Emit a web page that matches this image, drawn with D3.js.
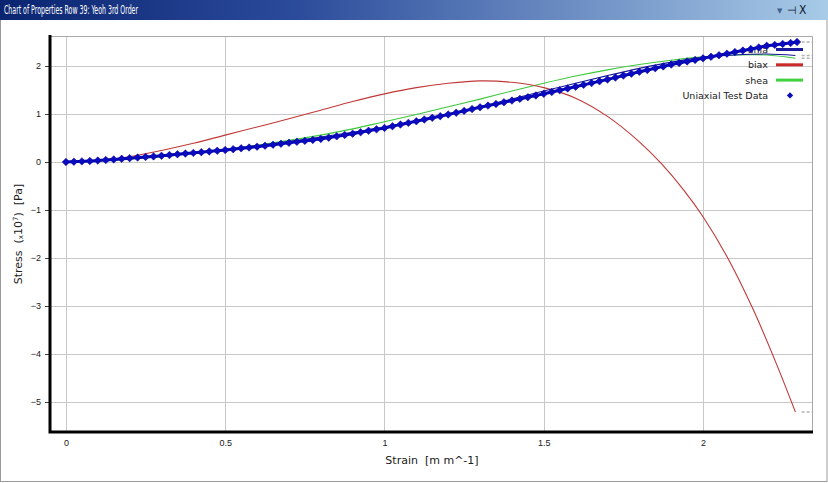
<!DOCTYPE html>
<html lang="en">
<head>
  <meta charset="UTF-8">
  <title>Chart of Properties Row 39: Yeoh 3rd Order</title>
  <style>
    body {
      margin: 0;
      padding: 0;
      background-color: white;
    }
    svg {
      display: block;
      font-family: "DejaVu Sans", Verdana, sans-serif;
    }
    .grid line {
      stroke: #c8c8c8;
      stroke-width: 1;
    }
    .tick text {
      fill: #202020;
      font-size: 9px;
    }
  </style>
  <script src="https://d3js.org/d3.v7.min.js"></script>
</head>
<body>
  <div id="chart"></div>
  <script>
    // fitted curves (Yeoh 3rd order), stress in 1e7 Pa
    const fitStrain = [0, 0.1, 0.2, 0.3, 0.4, 0.5, 0.6, 0.7, 0.8, 0.9, 1.0, 1.1, 1.2,
      1.3, 1.4, 1.5, 1.6, 1.7, 1.8, 1.9, 2.0, 2.1, 2.2, 2.29];
    const uniaFit = [0, 0.025, 0.07, 0.125, 0.19, 0.26, 0.34, 0.43, 0.52, 0.62, 0.73, 0.86, 1.0,
      1.15, 1.31, 1.48, 1.64, 1.8, 1.95, 2.08, 2.18, 2.23, 2.25, 2.22];
    const sheaFit = [0, 0.02, 0.06, 0.11, 0.18, 0.26, 0.35, 0.45, 0.56, 0.69, 0.84, 0.99, 1.15,
      1.31, 1.48, 1.64, 1.79, 1.92, 2.03, 2.12, 2.19, 2.23, 2.23, 2.16];
    const biaxStrain = [0, 0.1, 0.2, 0.3, 0.4, 0.5, 0.6, 0.7, 0.8, 0.9, 1.0, 1.1, 1.2,
      1.3, 1.4, 1.5, 1.6, 1.7, 1.8, 1.87, 1.94, 2.0, 2.08, 2.16, 2.23, 2.29];
    const biaxFit = [0, 0.03, 0.11, 0.24, 0.39, 0.56, 0.73, 0.9, 1.08, 1.26, 1.42, 1.55, 1.64,
      1.69, 1.66, 1.55, 1.33, 0.95, 0.42, -0.04, -0.59, -1.14, -2.03, -3.11, -4.2, -5.21];

    // uniaxial test data
    const testStrain = [0, 0.025, 0.05, 0.075, 0.1, 0.125, 0.15, 0.175, 0.2, 0.225, 0.25, 0.275,
      0.3, 0.325, 0.35, 0.375, 0.4, 0.425, 0.45, 0.475, 0.5, 0.525, 0.55, 0.575,
      0.6, 0.625, 0.65, 0.675, 0.7, 0.725, 0.75, 0.775, 0.8, 0.825, 0.85, 0.875,
      0.9, 0.925, 0.95, 0.975, 1.0, 1.025, 1.05, 1.075, 1.1, 1.125, 1.15, 1.175,
      1.2, 1.225, 1.25, 1.275, 1.3, 1.325, 1.35, 1.375, 1.4, 1.425, 1.45, 1.475,
      1.5, 1.525, 1.55, 1.575, 1.6, 1.625, 1.65, 1.675, 1.7, 1.725, 1.75, 1.775,
      1.8, 1.825, 1.85, 1.875, 1.9, 1.925, 1.95, 1.975, 2.0, 2.025, 2.05, 2.075,
      2.1, 2.125, 2.15, 2.175, 2.2, 2.225, 2.25, 2.275, 2.295];
    const testStress = [0, 0.006, 0.013, 0.021, 0.03, 0.042, 0.054, 0.067, 0.08, 0.092, 0.105, 0.117,
      0.13, 0.145, 0.16, 0.175, 0.19, 0.205, 0.22, 0.235, 0.25, 0.267, 0.285, 0.302,
      0.32, 0.34, 0.36, 0.38, 0.4, 0.42, 0.44, 0.46, 0.48, 0.507, 0.535, 0.562,
      0.59, 0.62, 0.65, 0.68, 0.71, 0.745, 0.78, 0.815, 0.85, 0.885, 0.92, 0.955,
      0.99, 1.027, 1.065, 1.102, 1.14, 1.175, 1.21, 1.245, 1.28, 1.315, 1.35, 1.385,
      1.42, 1.457, 1.495, 1.532, 1.57, 1.607, 1.645, 1.682, 1.72, 1.76, 1.8, 1.84,
      1.88, 1.917, 1.955, 1.992, 2.03, 2.062, 2.095, 2.127, 2.16, 2.192, 2.225, 2.257,
      2.29, 2.322, 2.355, 2.387, 2.42, 2.44, 2.46, 2.48, 2.5];

    const xTicks = [0, 0.5, 1, 1.5, 2];
    const yTicks = [-5, -4, -3, -2, -1, 0, 1, 2];
    const legendNames = ["unia", "biax", "shea", "Uniaxial Test Data"];

    const width = 828, height = 483;
    const plotLeft = 50, plotRight = 812, plotTop = 36, plotBottom = 431;

    const svg = d3.select("#chart")
      .append("svg")
      .attr("width", width)
      .attr("height", height);

    // window frame + title bar
    const grad = svg.append("defs").append("linearGradient")
      .attr("id", "titleGrad")
      .attr("x1", "0%").attr("x2", "100%");
    grad.append("stop").attr("offset", "0%").attr("stop-color", "#0a2470");
    grad.append("stop").attr("offset", "35%").attr("stop-color", "#2a4a9a");
    grad.append("stop").attr("offset", "100%").attr("stop-color", "#a8cbe8");

    svg.append("rect")
      .attr("x", 0.5).attr("y", 19.5)
      .attr("width", width - 1.5).attr("height", 462)
      .attr("fill", "white")
      .attr("stroke", "#9a9a9a");

    svg.append("rect")
      .attr("x", 0).attr("y", 0)
      .attr("width", width).attr("height", 20)
      .attr("fill", "url(#titleGrad)");

    svg.append("text")
      .attr("x", 4).attr("y", 14)
      .attr("fill", "white")
      .style("font-family", "'Liberation Sans Narrow', 'DejaVu Sans Condensed', sans-serif")
      .style("font-size", "12.5px")
      .attr("textLength", 134)
      .attr("lengthAdjust", "spacingAndGlyphs")
      .text("Chart of Properties Row 39: Yeoh 3rd Order");

    svg.append("text")
      .attr("x", 777).attr("y", 13)
      .attr("fill", "#40608a")
      .style("font-size", "7px")
      .text("▼");
    svg.append("text")
      .attr("x", 787).attr("y", 14)
      .attr("fill", "#101830")
      .style("font-size", "11px")
      .text("⊣");
    svg.append("text")
      .attr("x", 799).attr("y", 14)
      .attr("fill", "#101830")
      .style("font-family", "'Liberation Sans Narrow', 'DejaVu Sans Condensed', sans-serif")
      .style("font-size", "12px")
      .text("X");

    const xScale = d3.scaleLinear()
      .domain([-0.05, 2.342])
      .range([plotLeft, plotRight]);

    const yScale = d3.scaleLinear()
      .domain([2.625, -5.604])
      .range([plotTop, plotBottom]);

    // grid
    const grid = svg.append("g").attr("class", "grid");
    grid.selectAll("line.v")
      .data(xTicks)
      .enter()
      .append("line")
      .attr("class", "v")
      .attr("x1", d => Math.round(xScale(d)) + 0.5)
      .attr("x2", d => Math.round(xScale(d)) + 0.5)
      .attr("y1", plotTop)
      .attr("y2", plotBottom);

    grid.selectAll("line.h")
      .data(yTicks)
      .enter()
      .append("line")
      .attr("class", "h")
      .attr("x1", plotLeft)
      .attr("x2", plotRight)
      .attr("y1", d => Math.round(yScale(d)) + 0.5)
      .attr("y2", d => Math.round(yScale(d)) + 0.5);

    // plot frame top/right
    svg.append("path")
      .attr("d", `M${plotLeft},${plotTop + 0.5}H${plotRight + 0.5}V${plotBottom}`)
      .attr("fill", "none")
      .attr("stroke", "#a8a8a8");

    // axes
    const xAxis = svg.append("g")
      .attr("transform", `translate(0, ${plotBottom})`)
      .call(d3.axisBottom(xScale).tickValues(xTicks).tickSize(0).tickPadding(9)
        .tickFormat(d3.format("")));
    xAxis.select(".domain").remove();

    const yAxis = svg.append("g")
      .attr("transform", `translate(${plotLeft}, 0)`)
      .call(d3.axisLeft(yScale).tickValues(yTicks).tickSize(5).tickPadding(4));
    yAxis.select(".domain").remove();
    yAxis.selectAll(".tick line").attr("stroke", "#404040");

    svg.append("path")
      .attr("d", `M${plotLeft},${plotTop - 1}V${plotBottom + 1}H${plotRight + 1}`)
      .attr("fill", "none")
      .attr("stroke", "black")
      .attr("stroke-width", 3);

    // axis titles
    svg.append("text")
      .attr("x", 432).attr("y", 464)
      .attr("text-anchor", "middle")
      .attr("fill", "#202020")
      .style("font-size", "11px")
      .style("white-space", "pre")
      .text("Strain  [m m^-1]");

    const yTitle = svg.append("text")
      .attr("transform", "translate(22, 234) rotate(-90)")
      .attr("text-anchor", "middle")
      .attr("fill", "#202020")
      .style("font-size", "11px")
      .style("white-space", "pre");
    yTitle.append("tspan").text("Stress  (");
    yTitle.append("tspan").style("font-size", "7px").attr("dy", 1).text("x");
    yTitle.append("tspan").attr("dy", -1).text("10");
    yTitle.append("tspan").style("font-size", "7px").attr("dy", -4).text("7");
    yTitle.append("tspan").attr("dy", 4).text(")  [Pa]");

    // legend (drawn under the data)
    const legendColors = ["#1a1aa0", "#cc2a2a", "#40d040", "#0a0ac0"];
    const legend = svg.append("g");
    legend.selectAll("text")
      .data(legendNames)
      .enter()
      .append("text")
      .attr("x", 768)
      .attr("y", (d, i) => 53 + i * 15.3)
      .attr("text-anchor", "end")
      .attr("fill", "#202020")
      .style("font-size", "9.5px")
      .text(d => d);
    legend.selectAll("line")
      .data(legendNames.slice(0, 3))
      .enter()
      .append("line")
      .attr("x1", 776).attr("x2", 803)
      .attr("y1", (d, i) => 49.5 + i * 15.3)
      .attr("y2", (d, i) => 49.5 + i * 15.3)
      .attr("stroke", (d, i) => legendColors[i])
      .attr("stroke-width", 3);
    legend.append("path")
      .attr("d", d3.symbol(d3.symbolSquare, 20)())
      .attr("transform", `translate(790, ${49.5 + 3 * 15.3}) rotate(45)`)
      .attr("fill", legendColors[3]);

    // fitted lines
    const line = d3.line()
      .x(d => xScale(d[0]))
      .y(d => yScale(d[1]))
      .curve(d3.curveCatmullRom.alpha(0.5));

    const fits = [
      { name: "shea", strain: fitStrain, values: sheaFit, color: "#3cc83c" },
      { name: "biax", strain: biaxStrain, values: biaxFit, color: "#c03838" },
      { name: "unia", strain: fitStrain, values: uniaFit, color: "#16169a" }
    ];

    fits.forEach(f => {
      const pts = f.strain.map((s, i) => [s, f.values[i]]);
      svg.append("path")
        .attr("class", "line")
        .attr("d", line(pts))
        .attr("fill", "none")
        .attr("stroke", f.color)
        .attr("stroke-width", 1.1);
    });

    // test data diamonds
    const testPts = testStrain.map((s, i) => [s, testStress[i]]);
    svg.append("path")
      .attr("d", line(testPts))
      .attr("fill", "none")
      .attr("stroke", "#0a0ac0")
      .attr("stroke-width", 3);
    svg.selectAll(".point")
      .data(testPts)
      .enter()
      .append("path")
      .attr("class", "point")
      .attr("d", d3.symbol(d3.symbolSquare, 28)())
      .attr("transform", d => `translate(${xScale(d[0])}, ${yScale(d[1])}) rotate(45)`)
      .attr("fill", "#0a0ac0")
      .attr("stroke", "#000090")
      .attr("stroke-width", 0.5);

    // dashed end markers to the right edge
    const lastValues = [testStress[testStress.length - 1], uniaFit[uniaFit.length - 1],
      sheaFit[sheaFit.length - 1], biaxFit[biaxFit.length - 1]];
    svg.selectAll(".endmark")
      .data(lastValues)
      .enter()
      .append("line")
      .attr("class", "endmark")
      .attr("x1", xScale(2.3) + 3)
      .attr("x2", plotRight)
      .attr("y1", d => yScale(d))
      .attr("y2", d => yScale(d))
      .attr("stroke", "#b4b4b4")
      .attr("stroke-width", 1.5)
      .attr("stroke-dasharray", "3,2");
  </script>
</body>
</html>
